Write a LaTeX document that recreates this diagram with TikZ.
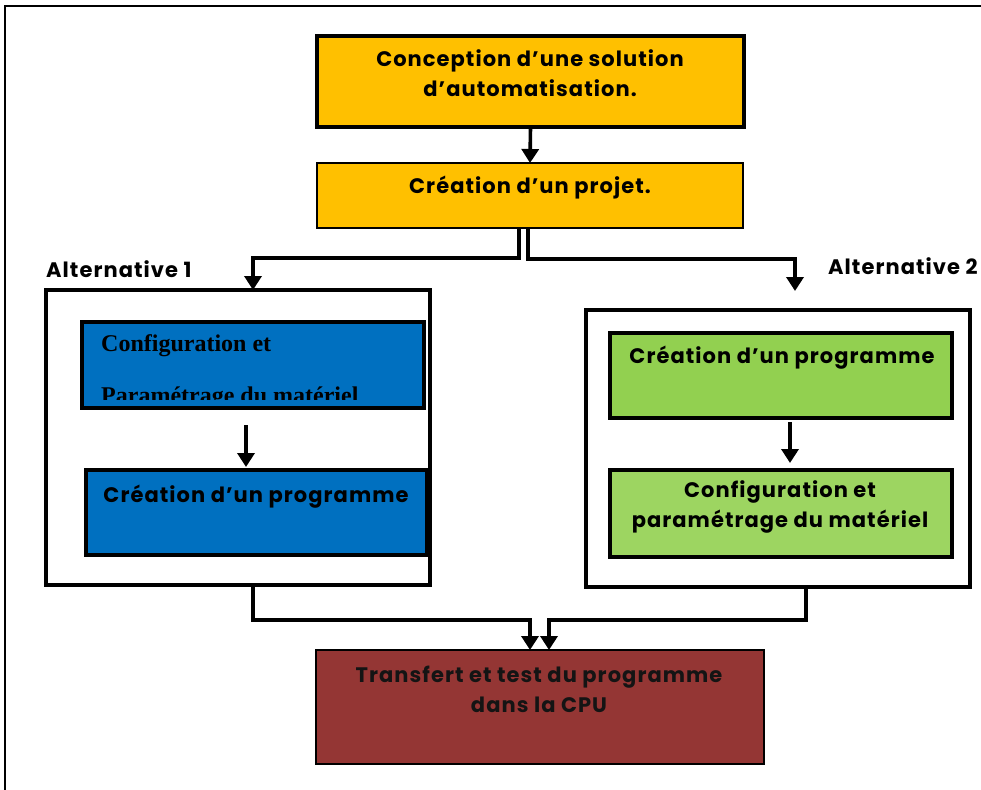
\documentclass[tikz,border=0pt]{standalone}
\usepackage{fontspec}
\setmainfont{Poppins}[LetterSpace=5]
\newfontfamily\serifb{Liberation Serif}
\usetikzlibrary{arrows.meta}
\definecolor{cyel}{HTML}{FFC000}
\definecolor{cblue}{HTML}{0070C0}
\definecolor{cgreen}{HTML}{92D050}
\definecolor{cred}{HTML}{943634}
\tikzset{
  box/.style={draw=black, line width=4pt, rectangle, inner sep=0pt, outer sep=0pt, anchor=north west},
  txt/.style={inner sep=0pt, anchor=base, align=center, font=\fontsize{21}{25}\selectfont\bfseries},
  lbl/.style={inner sep=0pt, anchor=base west, font=\fontsize{21}{25}\selectfont\bfseries},
  conn/.style={draw=black, line width=3.6pt},
  arr/.style={conn, -{Triangle[width=17pt,length=14pt]}},
}
\begin{document}
\begin{tikzpicture}[x=1pt,y=-1pt]
\useasboundingbox (0,0) rectangle (981,789);
\fill[white] (0,0) rectangle (981,789);
% outer frame
\draw[line width=2.8pt] (5,800) -- (5,6) -- (990,6);

% top boxes
\node[box, fill=cyel, line width=4.5pt, minimum width=427pt, minimum height=91pt] (b1) at (317,36) {};
\node[box, fill=cyel, line width=2.2pt, minimum width=426pt, minimum height=65pt] (b2) at (317,163) {};
\node[txt] (t1a) at (530,67) {Conception d’une solution};
\node[txt] (t1b) at (530,97) {d’automatisation.};
\node[txt] (t2) at (530,193) {Création d’un projet.};
\draw[arr] (b1.south) -- (b2.north);

% alternative frames
\node[box, minimum width=384pt, minimum height=295pt] (a1) at (46,290) {};
\node[box, minimum width=384pt, minimum height=277pt] (a2) at (586,310) {};
\node[lbl] (l1) at (46,277) {Alternative 1};
\node[lbl] (l2) at (828,274) {Alternative 2};

% fork
\coordinate (j1) at (253,258);
\coordinate (j2) at (795,259);
\coordinate (e2) at (795,291);
\draw[arr] ([xshift=-11pt]b2.south) |- (j1) -- (j1 |- a1.north);
\draw[arr] ([xshift=-2pt]b2.south) |- (j2) -- (e2);

% alternative 1 content
\node[box, fill=cblue, minimum width=342pt, minimum height=86pt] (bl1) at (82,322) {};
\node[box, fill=cblue, minimum width=341pt, minimum height=85pt] (bl2) at (86,470) {};
\begin{scope}
\clip (84,324) rectangle (422,399);
\node[inner sep=0pt, anchor=base west, font=\serifb\fontsize{24}{26}\selectfont\bfseries] (s1) at (101,351) {Configuration et};
\node[inner sep=0pt, anchor=base west, font=\serifb\fontsize{24}{26}\selectfont\bfseries] (s2) at (101,403) {Paramétrage du matériel};
\end{scope}
\node[txt] (t3) at (256,502) {Création d’un programme};
\coordinate (ax) at (246,0);
\draw[arr, shorten <=17pt] (bl1.south -| ax) -- ([yshift=3pt]bl2.north -| ax);

% alternative 2 content
\node[box, fill=cgreen, minimum width=342pt, minimum height=85pt] (g1) at (610,333) {};
\node[box, fill=cgreen!90!white, minimum width=342pt, minimum height=87pt] (g2) at (610,470) {};
\node[txt] (t4) at (782,363) {Création d’un programme};
\node[txt] (t5a) at (780,497) {Configuration et};
\node[txt] (t5b) at (780,527) {paramétrage du matériel};
\coordinate (gx) at (790,0);
\draw[arr, shorten <=4pt] (g1.south -| gx) -- ([yshift=7pt]g2.north -| gx);

% final box
\node[box, fill=cred, line width=2.8pt, minimum width=448pt, minimum height=114pt] (r) at (316,650) {};
\node[txt, text=black!92] (t6a) at (539,682) {Transfert et test du programme};
\node[txt, text=black!92] (t6b) at (539,712) {dans la CPU};
\coordinate (k1) at (253,620);
\coordinate (k2) at (806,620);
\draw[arr] (k1 |- a1.south) -- (k1) -| ([xshift=-10pt]r.north);
\draw[arr] (k2 |- a2.south) -- (k2) -| ([xshift=9pt]r.north);
\end{tikzpicture}
\end{document}
